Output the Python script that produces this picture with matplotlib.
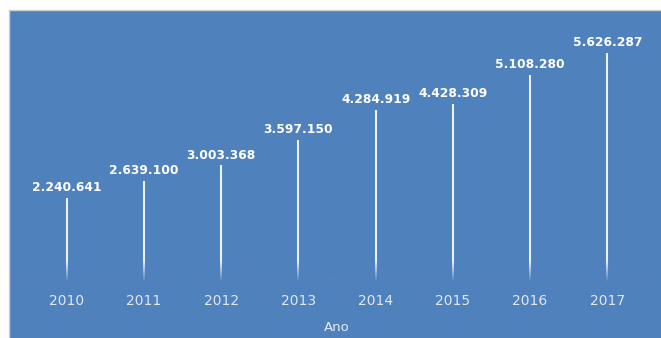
import numpy as np
from matplotlib import pyplot as plt
from matplotlib.lines import Line2D

# data
anos = ['2010', '2011', '2012', '2013', '2014', '2015', '2016', '2017']
valores = [2240641, 2639100, 3003368, 3597150, 4284919, 4428309, 5108280, 5626287]
rotulos = ['2.240.641', '2.639.100', '3.003.368', '3.597.150',
           '4.284.919', '4.428.309', '5.108.280', '5.626.287']
titulo_x = 'Ano'

azul = '#4f81bd'

fig = plt.figure(figsize=(6.61, 3.38), dpi=100)
fig.patch.set_facecolor('white')
# light grey frame on top and left of the chart area
fig.lines.append(Line2D([8.5 / 661, 1], [328.5 / 338, 328.5 / 338], transform=fig.transFigure,
                        color='#cfcfcf', linewidth=1.0))
fig.lines.append(Line2D([8.5 / 661, 8.5 / 661], [0, 328.5 / 338], transform=fig.transFigure,
                        color='#cfcfcf', linewidth=1.0))

ax = fig.add_axes([9 / 661, 0, 652 / 661, 328 / 338])
ax.set_facecolor(azul)
for s in ax.spines.values():
    s.set_visible(False)
ax.set_xticks([])
ax.set_yticks([])

x = np.arange(len(anos))
y = np.array(valores) / 1e6

# thin white bars
ax.vlines(x, 0, y, colors='white', linewidth=1.5, alpha=0.9, zorder=2)

# fade bottom of bars into background
grad = np.ones((100, 1, 4))
grad[..., :3] = np.array([0x4f, 0x81, 0xbd]) / 255
grad[:, 0, 3] = np.clip((0.8 - np.linspace(-0.1, 0.8, 100)) / 0.5, 0, 1)
ax.imshow(grad, extent=[-0.747, 7.695, -0.1, 0.8], origin='lower', aspect='auto',
          interpolation='bilinear', zorder=3)
ax.set_xlim(-0.747, 7.695)
ax.set_ylim(-1.009, 6.619)

for xi, yi, lab in zip(x, y, rotulos):
    ax.annotate(lab, (xi, yi), xytext=(0, 7.5), textcoords='offset points',
                ha='center', va='center', color='white', fontsize=8.8,
                fontweight='bold', zorder=4)

for xi, ano in zip(x, anos):
    ax.text(xi, 0.1143, ano, transform=ax.get_xaxis_transform(), ha='center', va='center',
            color='#dfe7f1', fontsize=10)

ax.text(3.5, 0.0305, titulo_x, transform=ax.get_xaxis_transform(), ha='center', va='center',
        color='#e4ebf4', fontsize=9.5)

fig.savefig('out.png', dpi=100, facecolor='white')
